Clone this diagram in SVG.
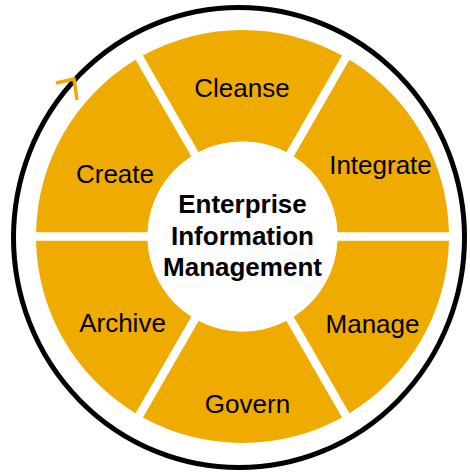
<svg xmlns="http://www.w3.org/2000/svg" width="470" height="472" viewBox="0 0 470 472">
<style>
.seg{fill:#F0AB00;}
.lbl{font-family:"Liberation Sans",Arial,sans-serif;font-size:26px;fill:#000;text-anchor:middle;}
.ctr{font-family:"Liberation Sans",Arial,sans-serif;font-size:26px;font-weight:bold;fill:#000;text-anchor:middle;}
</style>
<rect width="470" height="472" fill="#fff"/>
<g id="connectors">
<ellipse cx="239" cy="237.5" rx="225.5" ry="230" fill="none" stroke="#000" stroke-width="5"/>
<polyline points="56,83 74,79 77,100" fill="none" stroke="#F0AB00" stroke-width="3.5" stroke-linejoin="miter"/>
</g>
<g id="cleanse">
<path class="seg" d="M198.728,152.185 L142.953,55.579 A206.5,206.5 0 0 1 342.047,55.579 L286.272,152.185 A95,95 0 0 0 198.728,152.185 Z"/>
<text class="lbl" x="242" y="97">Cleanse</text>
</g>
<g id="integrate">
<path class="seg" d="M293.634,156.435 L349.409,59.829 A206.5,206.5 0 0 1 448.956,232.25 L337.405,232.25 A95,95 0 0 0 293.634,156.435 Z"/>
<text class="lbl" x="380.5" y="173.5">Integrate</text>
</g>
<g id="manage">
<path class="seg" d="M337.405,240.75 L448.956,240.75 A206.5,206.5 0 0 1 349.409,413.171 L293.634,316.565 A95,95 0 0 0 337.405,240.75 Z"/>
<text class="lbl" x="372.5" y="333">Manage</text>
</g>
<g id="govern">
<path class="seg" d="M286.272,320.815 L342.047,417.421 A206.5,206.5 0 0 1 142.953,417.421 L198.728,320.815 A95,95 0 0 0 286.272,320.815 Z"/>
<text class="lbl" x="247.5" y="413">Govern</text>
</g>
<g id="archive">
<path class="seg" d="M191.366,316.565 L135.591,413.171 A206.5,206.5 0 0 1 36.044,240.75 L147.595,240.75 A95,95 0 0 0 191.366,316.565 Z"/>
<text class="lbl" x="122.5" y="332">Archive</text>
</g>
<g id="create">
<path class="seg" d="M147.595,232.25 L36.044,232.25 A206.5,206.5 0 0 1 135.591,59.829 L191.366,156.435 A95,95 0 0 0 147.595,232.25 Z"/>
<text class="lbl" x="115" y="183">Create</text>
</g>
<g id="center">
<circle cx="242.5" cy="236.5" r="95" fill="#fff"/>
<text class="ctr" x="242.5" y="213">Enterprise</text>
<text class="ctr" x="242.5" y="245">Information</text>
<text class="ctr" x="242.5" y="276">Management</text>
</g>
</svg>
